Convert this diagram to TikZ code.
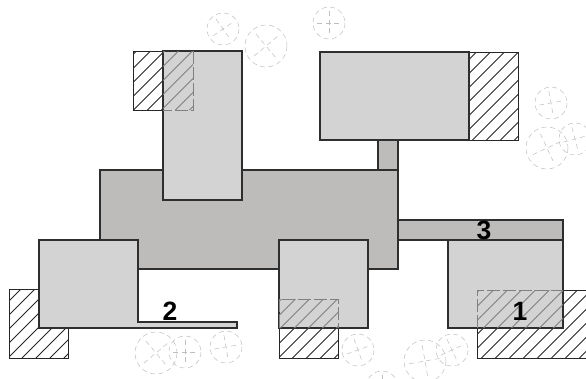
\documentclass[tikz,border=0pt]{standalone}
\usepackage{fontspec}
\setsansfont{Liberation Sans}
\usepackage{tikz}
\definecolor{partgray}{HTML}{D3D3D3}
\definecolor{basegray}{HTML}{BDBCBA}
\definecolor{ballgray}{HTML}{BEBEBE}
\tikzstyle{part} = [draw=black!82,line width=1.2pt,fill=partgray]
\tikzstyle{base} = [draw=black!82,line width=1.2pt,fill=basegray]
\tikzstyle{seat} = [draw=black!85,line width=1pt]
\tikzstyle{hidden} = [draw=black!50,line width=0.85pt]
\tikzstyle{ball} = [draw=ballgray,line width=0.5pt,dash pattern=on 5pt off 3.5pt]
\tikzstyle{num} = [font=\sffamily\bfseries\fontsize{26.5}{26.5}\selectfont,inner sep=0pt]
% corners, phase of the hatching, style
\newcommand{\hatchbox}[6]{
	\begin{scope}
		\clip (#1,#2) rectangle (#3,#4);
		\pgfmathsetmacro{\hstart}{#1+#2+Mod(#5-#1-#2,14)}
		\foreach \k in {0,...,14}{
			\draw[#6] ({\hstart+14*\k-#2},#2) -- ({\hstart+14*\k-#4},#4);
		}
	\end{scope}
}

\begin{document}
\begin{tikzpicture}[x=1pt,y=-1pt]
	\useasboundingbox (0,0) rectangle (586,378);
	\clip (0,0) rectangle (586,378);
	% seats
	\hatchbox{133}{51}{193}{110}{5.5}{seat}
	\draw[seat] (133,51) rectangle (193,110);
	\hatchbox{469}{52}{518}{140}{10.5}{seat}
	\draw[seat] (469,52) rectangle (518,140);
	\hatchbox{9}{289}{68}{358}{2}{seat}
	\draw[seat] (9,289) rectangle (68,358);
	\hatchbox{279}{299}{338}{358}{6.5}{seat}
	\draw[seat] (279,299) rectangle (338,358);
	\hatchbox{477}{290}{592}{358}{13.5}{seat}
	\draw[seat] (477,290) rectangle (592,358);
	% base with stem and bar
	\draw[base] (378,139) rectangle (398,170);
	\draw[base] (398,220) rectangle (563,240);
	\draw[base] (100,170) rectangle (398,269);
	% parts
	\draw[part] (163,51) rectangle (242,200);
	\draw[part] (320,52) rectangle (469,140);
	\draw[part] (279,240) rectangle (368,328);
	\draw[part] (448,240) rectangle (563,328);
	\draw[part] (39,240) -- (138,240) -- (138,322) -- (237,322) -- (237,328) -- (39,328) -- cycle;
	% parts of seats behind
	\hatchbox{163}{51}{193}{110}{5.5}{hidden}
	\draw[hidden,dash pattern=on 13pt off 3pt] (193,51) -- (193,110) -- (163,110);
	\hatchbox{279}{299}{338}{328}{6.5}{hidden}
	\draw[hidden,dash pattern=on 13pt off 3pt] (279,328) -- (279,299) -- (338,299) -- (338,328);
	\hatchbox{477}{290}{563}{328}{13.5}{hidden}
	\draw[hidden,dash pattern=on 13pt off 3pt] (477,328) -- (477,290) -- (563,290);
	% loose balls
	\foreach \x/\y/\r/\a in {223/29/16/35,266/46/21/40,329/23/16/0,551/103/16/10,547/148/21/25,575/139/16/15,156/353/21/40,185/352/16/0,226/347/16/10,358/350/16/20,425/361/21/10,452/350/16/25,382/387/16/0}{
		\draw[ball] (\x,\y) circle (\r);
		\draw[ball,rotate around={\a:(\x,\y)}] ({\x-0.75*\r},\y) -- ({\x+0.75*\r},\y);
		\draw[ball,rotate around={\a:(\x,\y)}] (\x,{\y-0.75*\r}) -- (\x,{\y+0.75*\r});
	}
	% numbers
	\node[num] (n_1) at (520,311) {1};
	\node[num] (n_2) at (170,311) {2};
	\node[num] (n_3) at (484,230) {3};
\end{tikzpicture}
\end{document}
